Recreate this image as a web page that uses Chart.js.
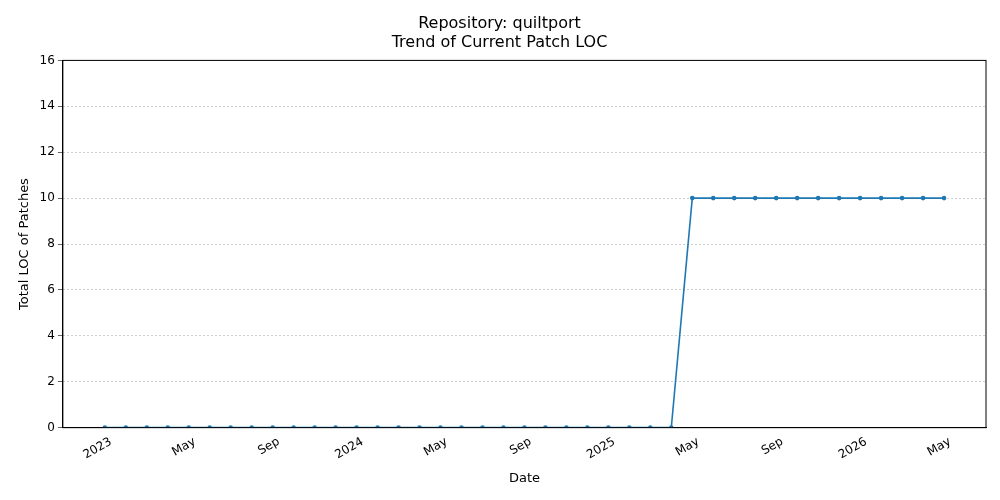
<!DOCTYPE html>
<html><head><meta charset="utf-8">
<script src="https://cdn.jsdelivr.net/npm/chart.js@4"></script>
<style>html,body{margin:0;padding:0;background:#fff}#w{width:1000px;height:500px}</style>
</head><body><div id="w"><canvas id="c"></canvas></div>
<script>
const months = [];
for (let y = 2023; y <= 2026; y++) for (let m = 1; m <= 12; m++) { if (y === 2026 && m > 5) break; months.push(y + '-' + String(m).padStart(2, '0')); }
const locValues = [0,0,0,0,0,0,0,0,0,0,0,0, 0,0,0,0,0,0,0,0,0,0,0,0, 0,0,0,0, 10,10,10,10,10,10,10,10,10,10,10,10,10];
const monthNames = ['Jan','Feb','Mar','Apr','May','Jun','Jul','Aug','Sep','Oct','Nov','Dec'];
const yTicks = [0,2,4,6,8,10,12,14,16];
const F = "'DejaVu Sans', sans-serif";
Chart.defaults.font.family = F;
Chart.defaults.color = '#000';
const lab = v => { const [y, m] = months[v].split('-').map(Number); return m === 1 ? String(y) : monthNames[m - 1]; };
new Chart(document.getElementById('c'), {
  type: 'line',
  data: { datasets: [{ data: months.map((m, i) => ({x: i, y: locValues[i]})), borderColor: '#1f77b4', backgroundColor: '#1f77b4', borderWidth: 1.6, pointRadius: 1.5, pointHoverRadius: 1.5, tension: 0 }] },
  options: {
    responsive: true, maintainAspectRatio: false, animation: false,
    layout: { padding: { left: 13, right: 14, top: 8, bottom: 10 } },
    plugins: { legend: { display: false }, tooltip: { enabled: false },
      title: { display: true, text: ['Repository: quiltport', 'Trend of Current Patch LOC'], font: { size: 16, weight: 'normal' }, padding: { top: 6, bottom: 8 }, color: '#000' } },
    scales: {
      x: { type: 'linear', min: -2, max: 42,
        afterBuildTicks: s => { s.ticks = []; for (let i = 0; i < months.length; i += 4) s.ticks.push({ value: i }); },
        ticks: { maxRotation: 30, minRotation: 30, font: { size: 12 }, color: 'rgba(0,0,0,0)', callback: v => lab(v) },
        grid: { display: false, drawTicks: true, tickLength: 5 },
        border: { color: '#000' },
        title: { display: true, text: 'Date', font: { size: 13 }, color: '#000' } },
      y: { min: 0, max: 16,
        afterBuildTicks: s => { s.ticks = yTicks.map(v => ({ value: v })); },
        ticks: { font: { size: 12 }, color: '#000' },
        grid: { color: '#b0b0b0', lineWidth: 0.6, tickLength: 5, tickColor: '#000' },
        border: { color: '#000', dash: [2, 2] },
        title: { display: true, text: 'Total LOC of Patches', font: { size: 13 }, color: '#000' } }
    }
  },
  plugins: [{ id: 'frame', afterDraw: ch => { const a = ch.chartArea, c = ch.ctx; c.save(); c.strokeStyle = '#000'; c.lineWidth = 1; c.setLineDash([]); c.strokeRect(a.left, a.top, a.right - a.left, a.bottom - a.top);
    const xs = ch.scales.x; c.font = '12px ' + F; c.fillStyle = '#000'; c.textAlign = 'right'; c.textBaseline = 'top';
    for (let i = 0; i < months.length; i += 4) { const px = xs.getPixelForValue(i); c.save(); c.translate(px + 3, a.bottom + 8); c.rotate(-Math.PI / 6); c.fillText(lab(i), 0, 0); c.restore(); }
    c.restore(); } }]
});
</script></body></html>
